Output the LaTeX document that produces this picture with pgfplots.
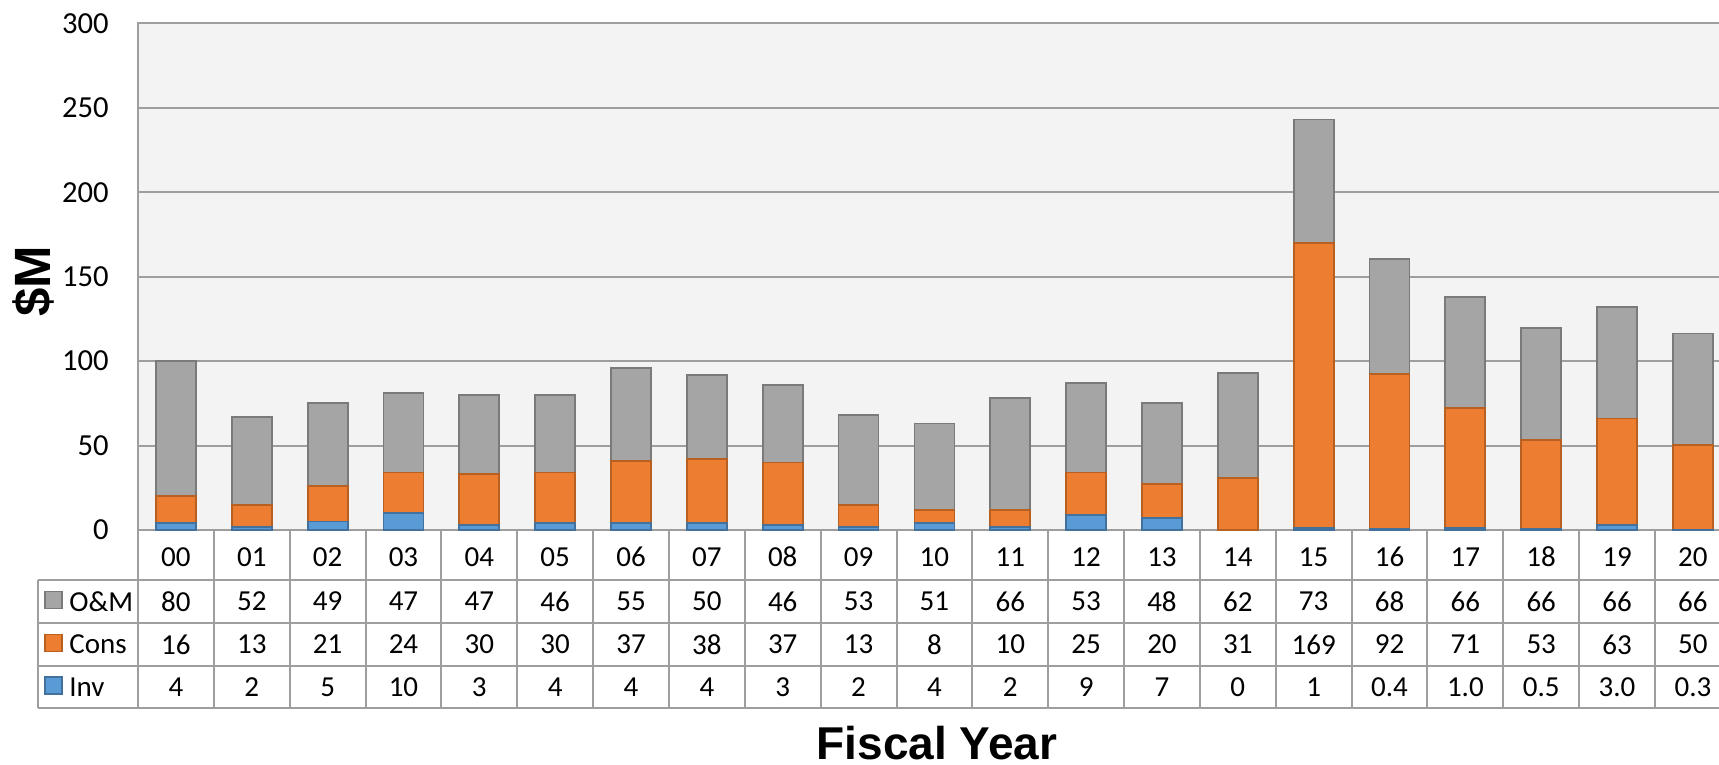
\documentclass[border=0pt]{standalone}
\usepackage{pgfplots}
\pgfplotsset{compat=1.18}
\usepackage{pgfplotstable}
\usepackage{fontspec}
\setmainfont{Carlito}
\newfontfamily\arialfont{Liberation Sans}

\definecolor{omfill}{HTML}{A5A5A5}
\definecolor{omdraw}{HTML}{7A7A7A}
\definecolor{consfill}{HTML}{ED7D31}
\definecolor{consdraw}{HTML}{B85F22}
\definecolor{invfill}{HTML}{5B9BD5}
\definecolor{invdraw}{HTML}{41719C}
\definecolor{gridgray}{HTML}{9E9E9E}
\definecolor{bggray}{HTML}{F3F3F3}

\pgfplotstableread{
idx OM Cons Inv
0  80 16  4
1  52 13  2
2  49 21  5
3  47 24  10
4  47 30  3
5  46 30  4
6  55 37  4
7  50 38  4
8  46 37  3
9  53 13  2
10 51 8   4
11 66 10  2
12 53 25  9
13 48 20  7
14 62 31  0
15 73 169 1
16 68 92  0.4
17 66 71  1.0
18 66 53  0.5
19 66 63  3.0
20 66 50  0.3
}\datatable

\newcommand{\tablefont}{\fontsize{14.5}{17}\selectfont}

\begin{document}
\begin{tikzpicture}
\useasboundingbox (0,0) rectangle (859.5pt,382.5pt);
\clip (0,0) rectangle (859.5pt,382.5pt);
\begin{axis}[
  at={(69pt,117.5pt)}, anchor=south west,
  scale only axis, width=796.4pt, height=253.35pt,
  xmin=-0.5, xmax=20.5, ymin=0, ymax=300,
  ybar stacked, bar width=20pt,
  xtick={0,...,20},
  xticklabels={00,01,02,03,04,05,06,07,08,09,10,11,12,13,14,15,16,17,18,19,20},
  ytick={0,50,...,300},
  major tick length=0pt,
  ymajorgrids,
  grid style={color=gridgray, line width=1pt},
  axis line style={color=gridgray, line width=1pt},
  axis background/.style={fill=bggray},
  /pgf/number format/assume math mode=true,
  yticklabel style={anchor=east, inner sep=0pt, xshift=-14.5pt, font=\fontsize{15.3}{18}\selectfont},
  xticklabel style={anchor=center, inner sep=0pt, yshift=-13.5pt, font=\tablefont},
  ylabel={\$M},
  ylabel style={at={(axis description cs:-0.0659,0.4914)}, anchor=center, font=\arialfont\bfseries\fontsize{25.5}{30}\selectfont},
  xlabel={Fiscal Year},
  xlabel style={at={(axis description cs:0.5016,-0.4520)}, anchor=base, inner sep=0pt, font=\arialfont\bfseries\fontsize{23}{27}\selectfont},
  clip=false,
]
\addplot[fill=invfill, draw=invdraw, line width=0.9pt] table[x=idx, y=Inv]{\datatable};
\addplot[fill=consfill, draw=consdraw, line width=0.9pt] table[x=idx, y=Cons]{\datatable};
\addplot[fill=omfill, draw=omdraw, line width=0.9pt] table[x=idx, y=OM]{\datatable};
\end{axis}

\begin{scope}[x=0.5pt, y=0.5pt]
  % table grid
  \foreach \yy in {185,142,99,56.7} \draw[gridgray, line width=1pt] (37.7,\yy) -- (1760,\yy);
  \draw[gridgray, line width=1pt] (37.7,185) -- (37.7,56.7);
  \foreach \k in {0,...,21} \draw[gridgray, line width=1pt] ({138+75.85*\k},235) -- ({138+75.85*\k},56.7);
  % legend cells
  \draw[fill=omfill, draw=omdraw, line width=0.8pt] (45,156.5) rectangle (62,173.5);
  \node[anchor=west, inner sep=0pt, font=\tablefont] at (69,163.5) {O\&M};
  \draw[fill=consfill, draw=consdraw, line width=0.8pt] (45,113.5) rectangle (62,130.5);
  \node[anchor=west, inner sep=0pt, font=\tablefont] at (69,120.5) {Cons};
  \draw[fill=invfill, draw=invdraw, line width=0.8pt] (45,71) rectangle (62,88);
  \node[anchor=west, inner sep=0pt, font=\tablefont] at (69,78) {Inv};
  % values
  \foreach \v [count=\i from 0] in {80,52,49,47,47,46,55,50,46,53,51,66,53,48,62,73,68,66,66,66,66}
    \node[font=\tablefont, inner sep=0pt] at ({138+75.85*(\i+0.5)},163.5) {\v};
  \foreach \v [count=\i from 0] in {16,13,21,24,30,30,37,38,37,13,8,10,25,20,31,169,92,71,53,63,50}
    \node[font=\tablefont, inner sep=0pt] at ({138+75.85*(\i+0.5)},120.5) {\v};
  \foreach \v [count=\i from 0] in {4,2,5,10,3,4,4,4,3,2,4,2,9,7,0,1,0.4,1.0,0.5,3.0,0.3}
    \node[font=\tablefont, inner sep=0pt] at ({138+75.85*(\i+0.5)},78) {\v};
\end{scope}
\end{tikzpicture}
\end{document}
